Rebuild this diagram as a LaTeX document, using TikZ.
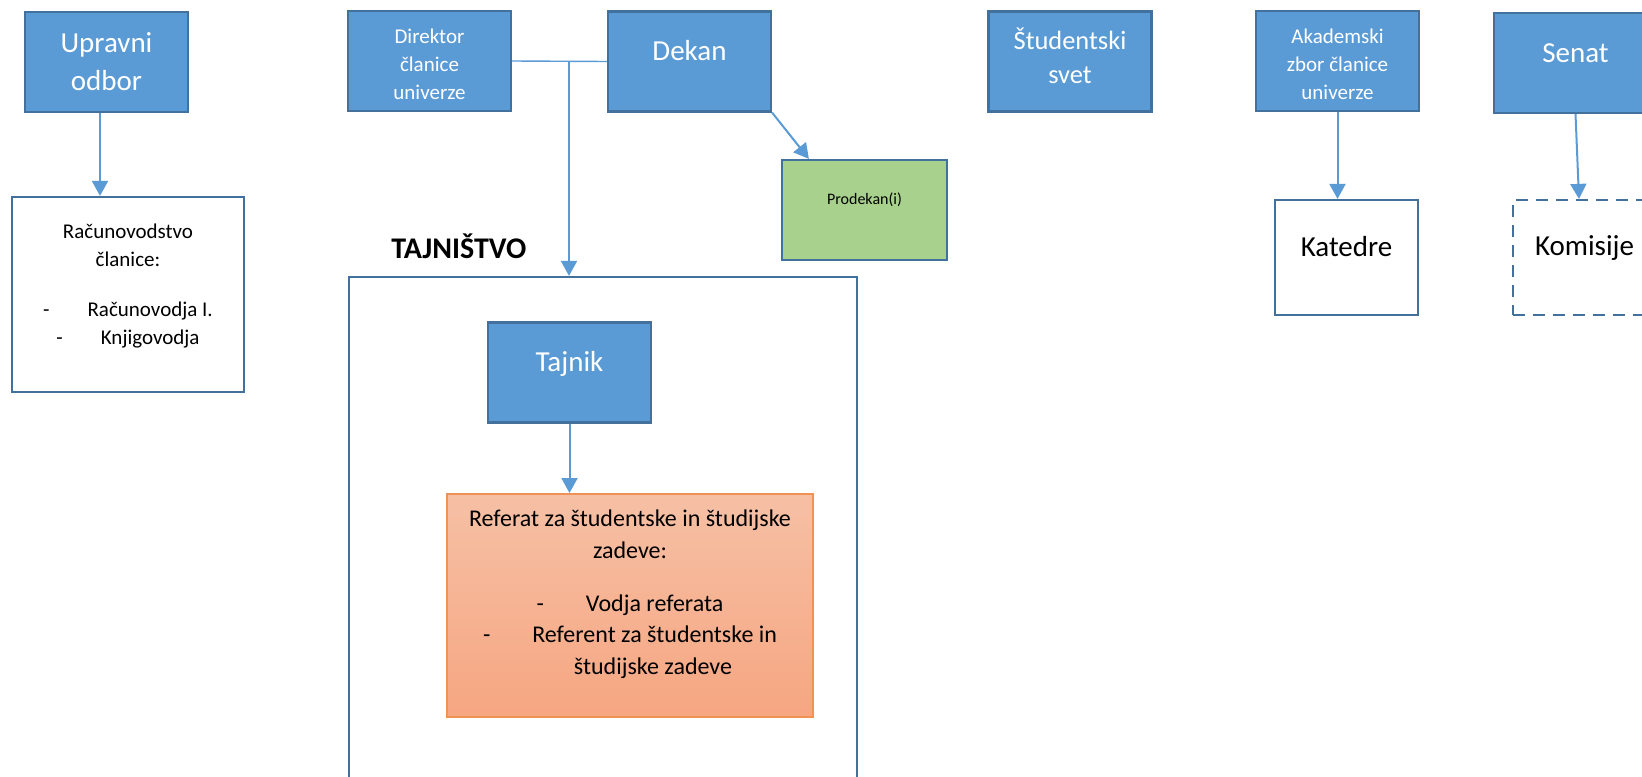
\documentclass[tikz,border=0pt]{standalone}
\usepackage{fontspec}
\setmainfont{Carlito}
\usetikzlibrary{arrows.meta, positioning}

\definecolor{modra}{RGB}{91,155,213}
\definecolor{obroba}{RGB}{65,113,156}
\definecolor{zelena}{RGB}{169,209,142}
\definecolor{oranzna}{RGB}{240,145,85}
\definecolor{oranzgor}{RGB}{246,192,165}
\definecolor{oranzdol}{RGB}{246,166,129}

\tikzset{
  modribox/.style={rectangle, draw=obroba, fill=modra, line width=1.1pt,
    minimum width=81.5pt, minimum height=50pt, inner sep=0pt},
  belibox/.style={rectangle, draw=obroba, line width=1.1pt, inner sep=0pt},
  beltekst/.style={align=center, inner sep=0pt, text=white},
  crntekst/.style={align=center, inner sep=0pt, text=black},
  puscica/.style={draw=modra, line width=1pt, -{Triangle[length=7.5pt, width=8pt]}},
}

\begin{document}
\begin{tikzpicture}[x=0.5pt, y=-0.5pt]
        \useasboundingbox (0, 0) rectangle (1642, 776);
        \clip (0, 0) rectangle (1642, 776);

        % vodstvo
        \node[modribox] at (106.5, 62) (upravni) {};
        \node[modribox] at (429.5, 61) (direktor) {};
        \node[modribox] at (689.5, 61.5) (dekan) {};
        \node[modribox] at (1070, 61.5) (studsvet) {};
        \node[modribox] at (1337.5, 61) (akademski) {};
        \node[modribox] at (1575.5, 63) (senat) {};

        % (anchor=base je osnovnica zadnje vrstice)
        \node[beltekst, anchor=base, font=\fontsize{14.5}{19}\selectfont] at (106.5, 90) (upravni-t) {Upravni\\odbor};
        \node[beltekst, anchor=base, font=\fontsize{10.5}{14}\selectfont] at (429.5, 99) (direktor-t) {Direktor\\članice\\univerze};
        \node[beltekst, anchor=base, font=\fontsize{14.5}{19}\selectfont] at (689.5, 60) (dekan-t) {Dekan};
        \node[beltekst, anchor=base, font=\fontsize{13.2}{17}\selectfont] at (1070, 83) (studsvet-t) {Študentski\\svet};
        \node[beltekst, anchor=base, font=\fontsize{10.5}{14}\selectfont] at (1337.5, 99) (akademski-t) {Akademski\\zbor članice\\univerze};
        \node[beltekst, anchor=base, font=\fontsize{14.5}{19}\selectfont] at (1575.5, 62) (senat-t) {Senat};

        % spodnje enote
        \node[belibox, minimum width=116pt, minimum height=97.5pt] at (128, 294.5) (racun) {};
        \node[belibox, fill=zelena, minimum width=82.5pt, minimum height=50pt] at (864.5, 210) (prodekan) {};
        \node[belibox, minimum width=71.5pt, minimum height=57.5pt] at (1346.5, 257.5) (katedre) {};
        \node[belibox, dash pattern=on 6pt off 4pt, minimum width=75pt, minimum height=57.5pt] at (1588, 257.5) (komisije) {};

        \node[crntekst, anchor=base, font=\fontsize{10.5}{14}\selectfont] at (128, 344) (racun-t)
            {Računovodstvo\\članice:\\[11pt]-\hspace{19pt}Računovodja I.\\-\hspace{19pt}Knjigovodja};
        \node[crntekst, anchor=base, font=\fontsize{8}{10}\selectfont] at (864.5, 204) (prodekan-t) {Prodekan(i)};
        \node[crntekst, anchor=base, font=\fontsize{14.5}{19}\selectfont] at (1346.5, 256) (katedre-t) {Katedre};
        \node[crntekst, anchor=base, font=\fontsize{14.5}{19}\selectfont] at (1584.5, 255) (komisije-t) {Komisije};

        % tajnistvo
        \node[belibox, minimum width=254pt, minimum height=270pt] at (603, 547) (tajnistvo) {};
        \node[crntekst, anchor=base west, font=\fontsize{15}{18}\selectfont\bfseries] at (391, 258) (tajnistvo-t) {TAJNIŠTVO};
        \node[modribox] at (569.5, 372.5) (tajnik) {};
        \node[beltekst, anchor=base, font=\fontsize{14.5}{19}\selectfont] at (569.5, 371) (tajnik-t) {Tajnik};
        \node[rectangle, draw=oranzna, line width=1pt, top color=oranzgor, bottom color=oranzdol,
            minimum width=183pt, minimum height=111.5pt, inner sep=0pt] at (630, 605.5) (referat) {};
        \node[crntekst, anchor=base, font=\fontsize{12}{15.75}\selectfont] at (630, 674) (referat-t)
            {Referat za študentske in študijske\\zadeve:\\[10.75pt]-\hspace{21pt}Vodja referata\\
             -\hspace{21pt}Referent za študentske in\\\hspace*{23pt}študijske zadeve};

        % povezave
        \coordinate (razcep) at (569, 61);
        \draw[draw=modra, line width=0.7pt] (direktor.east) to (dekan.west);
        \draw[puscica] (razcep) to (razcep |- tajnistvo.north);
        \draw[puscica] (dekan.south east) to ([xshift=14pt]prodekan.north west);
        \draw[puscica] ([xshift=-3.25pt]upravni.south) to ([xshift=-3.25pt]upravni.south |- racun.north);
        \draw[puscica] (akademski.south) to (akademski.south |- katedre.north);
        \draw[puscica] (senat.south) to ([xshift=-4.5pt]komisije.north);
        \draw[puscica] (tajnik.south) to (tajnik.south |- referat.north);
    \end{tikzpicture}
\end{document}
